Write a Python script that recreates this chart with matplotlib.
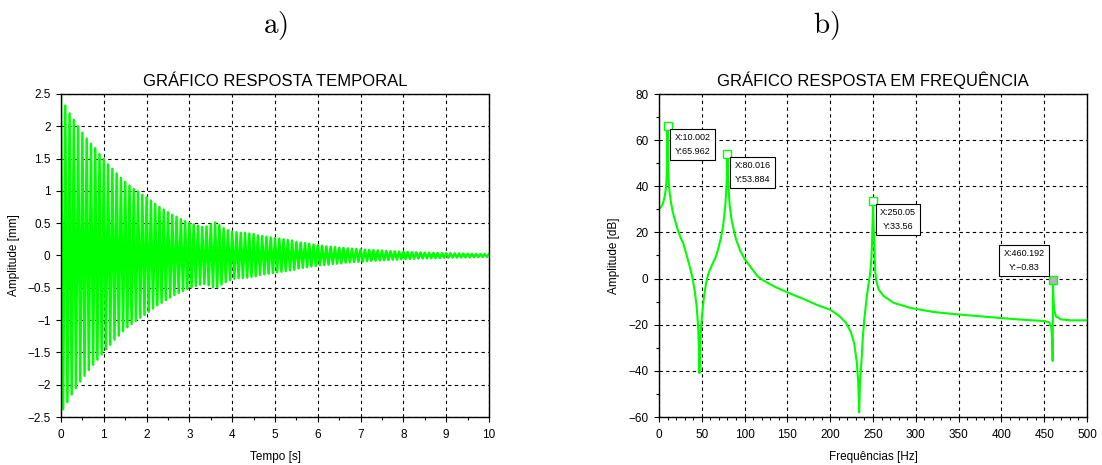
import matplotlib.pyplot as plt
import numpy as np
from matplotlib.ticker import FuncFormatter, MultipleLocator

plt.rcParams['font.family'] = ['Liberation Sans', 'DejaVu Sans']
plt.rcParams['mathtext.fontset'] = 'cm'

GREEN = '#00ff00'

# a) time response, read cycle by cycle (10 Hz): crest at t = 0, 0.1, ... 10 s,
# trough halfway between crests
PEAK_DT = 0.1
crest_mm = [
    2.45, 2.32, 2.20, 2.10, 2.00, 1.90, 1.81, 1.73, 1.66, 1.57,
    1.49, 1.41, 1.34, 1.27, 1.20, 1.14, 1.08, 1.03, 0.99, 0.94,
    0.90, 0.85, 0.80, 0.75, 0.71, 0.67, 0.63, 0.60, 0.56, 0.53,
    0.50, 0.48, 0.46, 0.44, 0.45, 0.48, 0.51, 0.47, 0.42, 0.39,
    0.37, 0.36, 0.35, 0.35, 0.34, 0.33, 0.31, 0.30, 0.29, 0.28,
    0.27, 0.26, 0.25, 0.24, 0.23, 0.21, 0.20, 0.19, 0.18, 0.17,
    0.16, 0.15, 0.14, 0.135, 0.13, 0.12, 0.115, 0.11, 0.105, 0.10,
    0.095, 0.09, 0.085, 0.08, 0.078, 0.075, 0.07, 0.067, 0.063, 0.06,
    0.057, 0.054, 0.051, 0.048, 0.046, 0.044, 0.042, 0.040, 0.038, 0.036,
    0.035, 0.033, 0.032, 0.030, 0.029, 0.028, 0.026, 0.025, 0.024, 0.023,
    0.022,
]
trough_mm = [
    -2.38, -2.27, -2.15, -2.05, -1.95, -1.86, -1.77, -1.69, -1.61, -1.53,
    -1.45, -1.38, -1.30, -1.24, -1.17, -1.11, -1.06, -1.01, -0.96, -0.92,
    -0.87, -0.82, -0.77, -0.73, -0.69, -0.65, -0.61, -0.58, -0.55, -0.52,
    -0.49, -0.47, -0.45, -0.44, -0.46, -0.49, -0.49, -0.45, -0.41, -0.38,
    -0.36, -0.35, -0.35, -0.34, -0.33, -0.32, -0.30, -0.29, -0.28, -0.27,
    -0.26, -0.25, -0.24, -0.23, -0.22, -0.20, -0.19, -0.18, -0.17, -0.16,
    -0.15, -0.145, -0.14, -0.13, -0.125, -0.12, -0.11, -0.105, -0.10, -0.097,
    -0.092, -0.087, -0.083, -0.079, -0.076, -0.072, -0.068, -0.065, -0.062, -0.058,
    -0.055, -0.052, -0.050, -0.047, -0.045, -0.043, -0.041, -0.039, -0.037, -0.035,
    -0.034, -0.032, -0.031, -0.030, -0.028, -0.027, -0.026, -0.025, -0.024, -0.023,
]

# b) frequency response magnitude
freq_hz = [
    0, 2, 4, 6, 7.5, 8.5, 9.3, 9.7, 10.002, 10.3, 10.7, 11.5, 12.5, 14, 16,
    18.6, 22, 25, 28.3, 32, 36, 39, 42, 44, 45.7, 46.6, 47.2, 48, 49, 50.5,
    52.5, 55, 57.5, 62, 67, 72, 75, 77.5, 78.8, 79.5, 80.016, 80.5, 81.2,
    82.5, 85, 90, 95, 100, 106, 115, 121, 135, 150, 170, 185, 200, 210, 218,
    224, 228, 231, 232.8, 233.8, 234.8, 236.5, 238, 240, 242.8, 245, 246.7,
    248, 248.7, 249.5, 250.05, 250.6, 251.6, 252.7, 254.5, 256.6, 262.5, 274,
    293.7, 321, 348, 380, 419, 450, 456, 458.3, 459.5, 459.9, 460.192, 461,
    461.7, 463.6, 469.5, 481, 500,
]
mag_db = [
    30.2, 30.8, 32.0, 34.5, 37.5, 41, 47, 54, 65.962, 54, 47, 41, 37, 33, 29,
    25.4, 21, 18, 15.3, 10.5, 5.1, 0.5, -6, -12, -20.8, -30, -41, -30, -22, -15,
    -8, -2, 2, 6, 10, 17, 23, 32, 40, 46, 53.884, 46, 40,
    32, 25, 17, 12, 8.5, 5.5, 1, -0.6, -3.5, -6, -9, -11.5, -13.5, -16, -19,
    -23, -28, -36, -45, -58, -45, -36, -26, -17, -7.6, -2, 2.4,
    8, 14, 24, 33.56, 24, 14, 2.4, -2, -4.7, -7.6, -10.5,
    -12.7, -14.5, -15.5, -16.5, -17.7, -18.4, -19, -21, -28, -35.7, -0.83, -10,
    -13.4, -16.3, -17.7, -18.1, -18.1,
]

tip_x = [10.002, 80.016, 250.05, 460.192]
tip_y = [65.962, 53.884, 33.56, -0.83]
tip_text = ['X:10.002\nY:65.962', 'X:80.016\nY:53.884',
            'X:250.05\nY:33.56', 'X:460.192\nY:\u22120.83']


def tick_fmt(v, _pos):
    return f'{v:g}'.replace('-', '\u2212')


def style_axes(ax, xlim, ylim, xmajor, xminor, ymajor, yminor):
    ax.set_xlim(*xlim)
    ax.set_ylim(*ylim)
    ax.xaxis.set_major_locator(MultipleLocator(xmajor))
    ax.xaxis.set_minor_locator(MultipleLocator(xminor))
    ax.yaxis.set_major_locator(MultipleLocator(ymajor))
    if yminor:
        ax.yaxis.set_minor_locator(MultipleLocator(yminor))
    ax.xaxis.set_major_formatter(FuncFormatter(tick_fmt))
    ax.yaxis.set_major_formatter(FuncFormatter(tick_fmt))
    ax.grid(True, which='major', color='black', linestyle=(0, (3, 3)), linewidth=0.8)
    ax.set_axisbelow(True)
    ax.tick_params(which='major', direction='out', length=3.5, width=0.8,
                   labelsize=8.5, pad=4)
    ax.tick_params(axis='x', which='major', pad=5)
    ax.tick_params(which='minor', direction='out', length=2, width=0.8)
    for sp in ax.spines.values():
        sp.set_linewidth(1.0)


def interleave_peaks(crest, trough, dt):
    t_crest = np.arange(len(crest)) * dt
    t_trough = t_crest[:-1] + dt / 2
    t = np.empty(len(crest) + len(trough))
    y = np.empty_like(t)
    t[0::2], y[0::2] = t_crest, crest
    t[1::2], y[1::2] = t_trough, trough
    return t, y


def main():
    fig = plt.figure(figsize=(11.02, 4.65), dpi=100)
    ax1 = fig.add_axes([61 / 1102, 48 / 465, 428 / 1102, 323 / 465])
    ax2 = fig.add_axes([659 / 1102, 48 / 465, 428 / 1102, 323 / 465])

    t, y = interleave_peaks(crest_mm, trough_mm, PEAK_DT)
    ax1.plot(t, y, color=GREEN, linewidth=1.8)
    style_axes(ax1, (0, 10), (-2.5, 2.5), 1, 0.5, 0.5, None)
    ax1.set_title('GRÁFICO RESPOSTA TEMPORAL', fontsize=12, pad=6)
    ax1.set_xlabel('Tempo [s]', fontsize=8.5, labelpad=7)
    ax1.set_ylabel('Amplitude [mm]', fontsize=8.5, labelpad=5)

    ax2.plot(freq_hz, mag_db, color=GREEN, linewidth=1.5)
    style_axes(ax2, (0, 500), (-60, 80), 50, 10, 20, 10)
    ax2.set_title('GRÁFICO RESPOSTA EM FREQUÊNCIA', fontsize=12, pad=6)
    ax2.set_xlabel('Frequências [Hz]', fontsize=8.5, labelpad=7)
    ax2.set_ylabel('Amplitude [dB]', fontsize=8.5, labelpad=6)

    for i, (x, yv, txt) in enumerate(zip(tip_x, tip_y, tip_text)):
        last = i == len(tip_x) - 1
        ax2.plot(x, yv, marker='s', markersize=5.5, markeredgecolor=GREEN,
                 markerfacecolor='#b4b4b4' if last else 'white',
                 markeredgewidth=1.0, zorder=4)
        if last:
            off, ha, va = (-6, 6), 'right', 'bottom'
        else:
            off, ha, va = (5, -5), 'left', 'top'
        ax2.annotate(txt, (x, yv), xytext=off, textcoords='offset points',
                     ha=ha, va=va, fontsize=6.5, linespacing=1.7,
                     multialignment='center', zorder=5,
                     bbox=dict(boxstyle='square,pad=0.45', facecolor='white',
                               edgecolor='black', linewidth=0.8))

    fig.text(275.5 / 1102, 1 - 25 / 465, r'$\mathrm{a)}$', fontsize=21,
             ha='center', va='center')
    fig.text(826.5 / 1102, 1 - 25 / 465, r'$\mathrm{b)}$', fontsize=21,
             ha='center', va='center')

    fig.savefig('out.png', dpi=100)
    plt.close(fig)


if __name__ == '__main__':
    main()
